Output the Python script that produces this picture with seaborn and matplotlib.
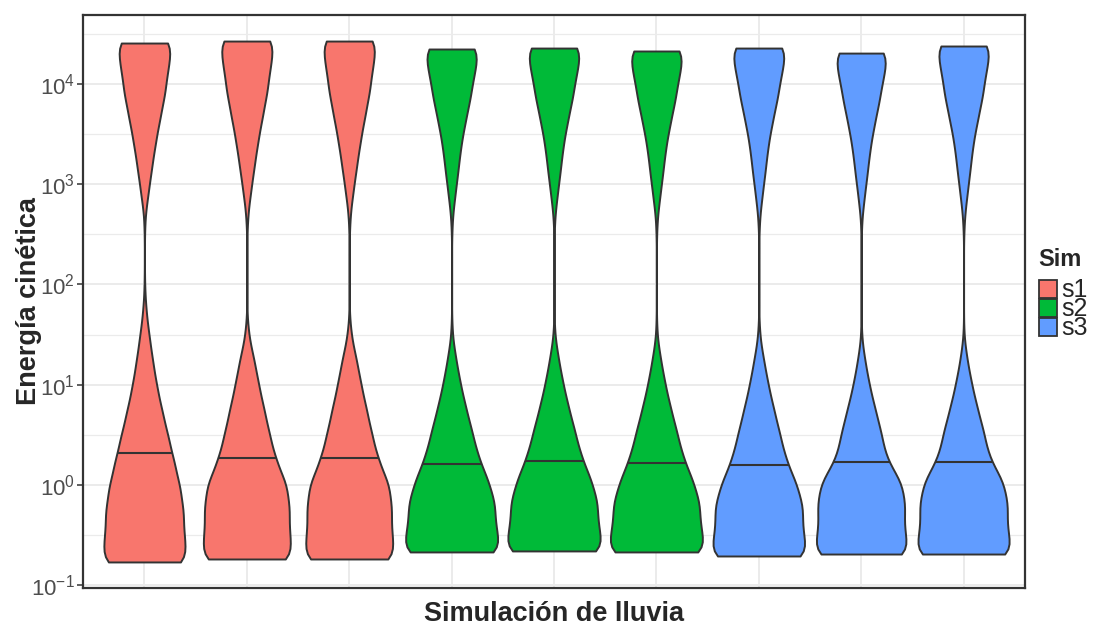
import numpy as np
import pandas as pd
import matplotlib
matplotlib.use("Agg")
import matplotlib.pyplot as plt
import seaborn as sns
from matplotlib.patches import Patch
from matplotlib.ticker import LogLocator, NullFormatter

sns.set_theme(style="white")
plt.rcParams["font.family"] = ["Liberation Sans", "DejaVu Sans"]
plt.rcParams["mathtext.default"] = "regular"
plt.rcParams["axes.unicode_minus"] = False

# ---------------- data ----------------
corridas = ["c1", "c2", "c3", "c4", "c5", "c6", "c7", "c8", "c9"]
sim = ["s1", "s1", "s1", "s2", "s2", "s2", "s3", "s3", "s3"]
niveles_sim = ["s1", "s2", "s3"]
colores = ["#F8766D", "#00BA38", "#619CFF"]

# smallest / largest kinetic energy of each run
e_min = [0.170, 0.182, 0.182, 0.214, 0.219, 0.214, 0.195, 0.204, 0.204]
e_max = [25700, 26900, 26900, 22400, 22900, 21400, 22900, 20400, 24000]
n_clases = 22  # log-spaced energy classes between min and max of each run

# number of observations in each energy class, per run
n_c1 = [370, 326, 326, 297, 248, 200, 151, 106, 72, 43, 16, 2, 0, 0, 4, 33, 61, 92, 130, 172, 194, 242]
n_c2 = [418, 370, 376, 354, 254, 201, 154, 106, 67, 17, 0, 0, 0, 0, 8, 37, 67, 99, 139, 181, 205, 253]
n_c3 = [420, 368, 374, 354, 254, 201, 154, 106, 67, 18, 0, 0, 0, 0, 8, 37, 67, 99, 139, 181, 205, 253]
n_c4 = [518, 424, 432, 358, 257, 202, 140, 86, 44, 6, 0, 0, 0, 0, 7, 36, 65, 91, 135, 186, 220, 286]
n_c5 = [518, 424, 433, 361, 260, 204, 141, 87, 44, 6, 0, 0, 0, 0, 7, 36, 65, 91, 135, 186, 220, 286]
n_c6 = [517, 423, 431, 357, 256, 202, 140, 86, 44, 6, 0, 0, 0, 0, 7, 37, 66, 92, 136, 187, 221, 286]
n_c7 = [501, 411, 430, 361, 257, 204, 147, 93, 51, 10, 0, 0, 0, 0, 7, 35, 64, 89, 132, 183, 217, 282]
n_c8 = [496, 406, 429, 398, 238, 199, 139, 82, 40, 4, 0, 0, 0, 0, 4, 31, 60, 85, 126, 176, 212, 276]
n_c9 = [505, 413, 433, 389, 242, 199, 134, 79, 35, 2, 0, 0, 0, 0, 9, 38, 66, 92, 138, 188, 216, 282]
cuentas = [n_c1, n_c2, n_c3, n_c4, n_c5, n_c6, n_c7, n_c8, n_c9]

# median energy of each run
medianas = [2.09, 1.86, 1.86, 1.62, 1.74, 1.66, 1.58, 1.70, 1.70]

# ---------------- long table ----------------
frames = []
for i, c in enumerate(corridas):
    clases = np.logspace(np.log10(e_min[i]), np.log10(e_max[i]), n_clases)
    vals = np.repeat(clases, cuentas[i])
    frames.append(pd.DataFrame({"corrida": c, "Sim": sim[i], "energia": vals}))
df = pd.concat(frames, ignore_index=True)


def ancho_banda(kde):
    # kernel bandwidth of 0.15 decades
    return 0.15 / np.std(kde.dataset)


# ---------------- figure ----------------
fig = plt.figure(figsize=(10.96, 6.28), dpi=100)
ax = fig.add_axes([83 / 1096, 1 - 588 / 628, (1025 - 83) / 1096, (588 - 15) / 628])

linea = "#333333"
sns.violinplot(data=df, x="corrida", y="energia", hue="Sim", order=corridas,
               hue_order=niveles_sim, palette=colores, dodge=False, log_scale=True,
               cut=0, inner=None, width=0.9, density_norm="count", common_norm=True,
               bw_method=ancho_banda, linewidth=1.4, linecolor=linea, saturation=1,
               legend=False, ax=ax, zorder=3)

# median line across each violin (width taken from the drawn violin body)
for coll in ax.collections:
    verts = coll.get_paths()[0].vertices
    cx = np.mean([verts[:, 0].min(), verts[:, 0].max()])
    i = int(round(cx))
    der = verts[verts[:, 0] > cx + 1e-9]
    ly = np.log10(der[:, 1])
    orden = np.argsort(ly)
    w = np.interp(np.log10(medianas[i]), ly[orden], der[orden, 0] - cx)
    ax.plot([cx - w, cx + w], [medianas[i], medianas[i]], color=linea, lw=1.5,
            zorder=4, solid_capstyle="butt")

# axis limits with ggplot-like 5% expansion
lo = np.log10(min(e_min))
hi = np.log10(max(e_max))
pad = 0.05 * (hi - lo)
ax.set_ylim(10 ** (lo - pad), 10 ** (hi + pad))
ax.set_xlim(-0.6, len(corridas) - 1 + 0.6)

ax.yaxis.set_major_locator(LogLocator(base=10, numticks=20))
ax.yaxis.set_minor_locator(LogLocator(base=10, subs=[10 ** 0.5], numticks=20))
ax.yaxis.set_minor_formatter(NullFormatter())

ax.set_axisbelow(True)
ax.grid(True, which="major", color="#EBEBEB", lw=1.4)
ax.grid(True, which="minor", axis="y", color="#EBEBEB", lw=0.9)
ax.tick_params(axis="x", length=0, labelbottom=False)
ax.tick_params(axis="y", which="major", length=4, width=1.1, color=linea,
               labelsize=16, labelcolor="#4D4D4D", pad=2, left=True)
ax.tick_params(axis="y", which="minor", length=0)

for s in ax.spines.values():
    s.set_visible(True)
    s.set_color(linea)
    s.set_linewidth(1.6)
    s.set_zorder(6)

ax.set_xlabel("Simulación de lluvia", fontsize=19.5, fontweight="bold")
ax.set_ylabel("Energía cinética", fontsize=19.5, fontweight="bold")
ax.xaxis.set_label_coords(0.5, -0.022)
ax.yaxis.set_label_coords(-0.043, 0.5)

handles = [Patch(facecolor=c, edgecolor=linea, linewidth=1.3, label=l)
           for c, l in zip(colores, niveles_sim)]
leg = fig.legend(handles=handles, title="Sim", loc="upper left",
                 bbox_to_anchor=(1021 / 1096, 1 - 231 / 628), frameon=False,
                 fontsize=18, title_fontsize=17, handlelength=0.75, handleheight=0.72,
                 handletextpad=0.15, labelspacing=-0.2, borderpad=0.2)
leg.get_title().set_fontweight("bold")
leg._legend_box.align = "left"
leg._legend_box.sep = 5

fig.savefig("out.png", dpi=100)
